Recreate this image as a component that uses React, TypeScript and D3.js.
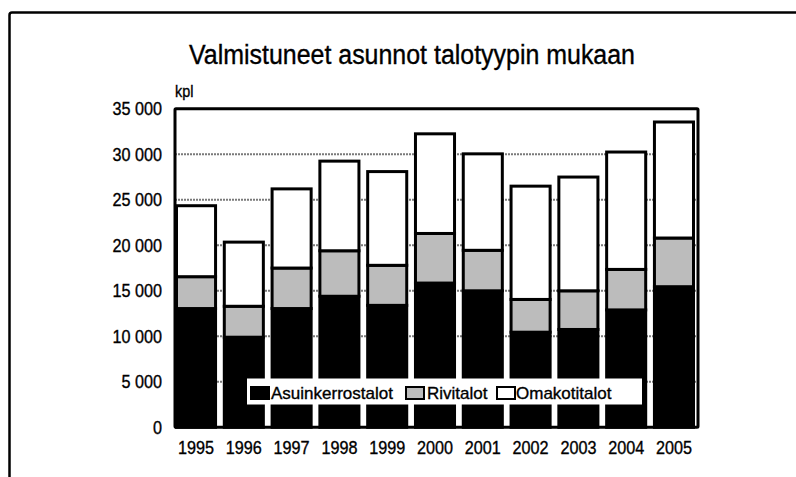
import React from "react";
import * as d3 from "d3";

const years = ["1995", "1996", "1997", "1998", "1999", "2000", "2001", "2002", "2003", "2004", "2005"];
const asuinkerrostalot = [13050, 9900, 13050, 14400, 13400, 15850, 15000, 10450, 10750, 12900, 15450];
const rivitalot = [3500, 3400, 4450, 5000, 4400, 5450, 4450, 3600, 4250, 4450, 5350];
const omakotitalot = [7800, 7050, 8700, 9850, 10300, 10950, 10600, 12450, 12500, 12900, 12750];
const seriesNames = ["Asuinkerrostalot", "Rivitalot", "Omakotitalot"];
const yTicks = [0, 5000, 10000, 15000, 20000, 25000, 30000, 35000];
const title = "Valmistuneet asunnot talotyypin mukaan";
const unitLabel = "kpl";

const W = 796;
const H = 477;
const FONT = "'Liberation Sans', Arial, sans-serif";
const fills = ["#000000", "#bcbcbc", "#ffffff"];
const textStroke = { stroke: "#000", strokeWidth: 0.35 };

export default function App() {
  const plot = { left: 175, right: 698, top: 108.8, bottom: 427.3 };
  const x = d3.scaleBand<string>().domain(years).range([175, 695]).paddingInner(0.12).paddingOuter(0);
  const y = d3.scaleLinear().domain([0, 35000]).range([plot.bottom, plot.top]);

  const rows = years.map((yr, i) => ({
    year: yr,
    Asuinkerrostalot: asuinkerrostalot[i],
    Rivitalot: rivitalot[i],
    Omakotitalot: omakotitalot[i],
  }));
  const stacked = d3.stack<any>().keys(seriesNames)(rows);
  const fmt = (v: number) => (v >= 1000 ? d3.format(",")(v).replace(",", " ") : String(v));
  const bw = x.bandwidth();
  const sw = 3;

  return (
    <svg width={W} height={H} style={{ position: "absolute", left: 0, top: 0, background: "#fff" }} fontFamily={FONT}>
      <rect x={0} y={0} width={W} height={H} fill="#fff" />
      {/* outer frame */}
      <path d={`M9.5,${H + 2} L9.5,15 Q9.5,12.5 12,12.5 L${W + 2},12.5`} fill="none" stroke="#000" strokeWidth={2.5} />
      {/* title */}
      <text x={412} y={63.5} fontSize={27} textAnchor="middle" textLength={446} lengthAdjust="spacingAndGlyphs" fill="#000" {...textStroke}>
        {title}
      </text>
      <text transform={`translate(175,97) scale(0.9,1)`} fontSize={16} fill="#000" {...textStroke}>
        {unitLabel}
      </text>
      {/* gridlines */}
      {yTicks.filter((t) => t > 0 && t < 35000).map((t) => (
        <line key={t} x1={plot.left} x2={plot.right} y1={y(t)} y2={y(t)} stroke="#7a7a7a" strokeWidth={2} strokeDasharray="2,1" />
      ))}
      {/* bars */}
      {stacked.map((s, si) =>
        s.map((d, i) => (
          <rect
            key={`${si}-${i}`}
            x={(x(years[i]) as number) + sw / 2}
            width={bw - sw}
            y={y(d[1])}
            height={y(d[0]) - y(d[1])}
            fill={fills[si]}
            stroke="#000"
            strokeWidth={sw}
          />
        ))
      )}
      {/* plot frame */}
      <rect x={plot.left} y={plot.top} width={plot.right - plot.left} height={plot.bottom - plot.top} fill="none" stroke="#000" strokeWidth={3} rx={1} />
      {/* y axis labels */}
      {yTicks.map((t) => (
        <text key={t} transform={`translate(162,${y(t) + 6.5}) scale(0.9,1)`} fontSize={18} textAnchor="end" fill="#000" {...textStroke}>
          {fmt(t)}
        </text>
      ))}
      {/* x axis labels */}
      {years.map((yr) => (
        <text key={yr} transform={`translate(${(x(yr) as number) + bw / 2},453.5) scale(0.9,1)`} fontSize={18} textAnchor="middle" fill="#000" {...textStroke}>
          {yr}
        </text>
      ))}
      {/* legend */}
      <g>
        <rect x={247} y={378.5} width={395} height={26} fill="#fff" />
        {seriesNames.map((name, i) => {
          const sx = [251, 406, 497][i];
          const tx = [271, 427, 516][i];
          return (
            <g key={name}>
              <rect x={sx} y={387} width={18} height={12} fill={fills[i]} stroke="#000" strokeWidth={2} />
              <text x={tx} y={399} fontSize={17} fill="#000" {...textStroke}>
                {name}
              </text>
            </g>
          );
        })}
      </g>
    </svg>
  );
}
